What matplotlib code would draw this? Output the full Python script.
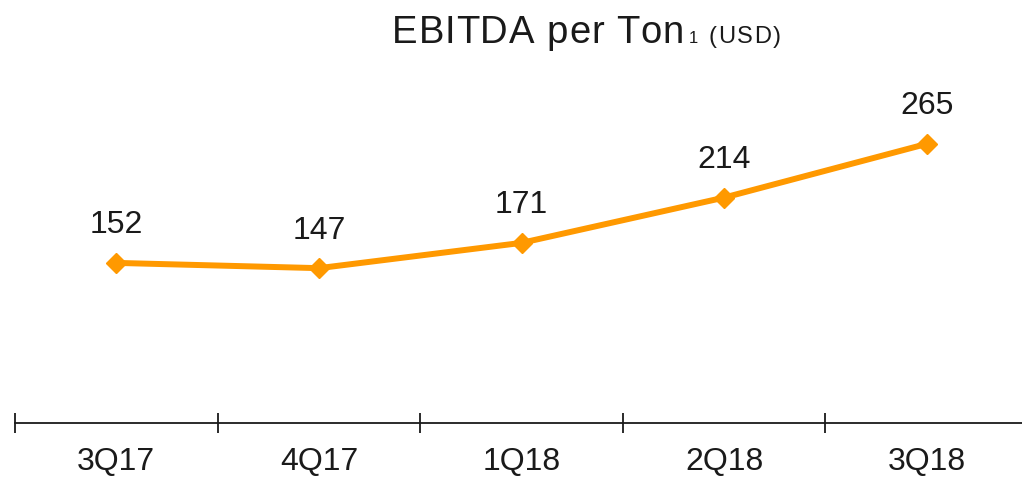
import matplotlib
matplotlib.use("Agg")
import matplotlib.pyplot as plt

plt.rcParams['font.family'] = ['Liberation Sans', 'DejaVu Sans']

quarters = ["3Q17", "4Q17", "1Q18", "2Q18", "3Q18"]
ebitda_per_ton = [152, 147, 171, 214, 265]

W, H = 1022, 480
fig = plt.figure(figsize=(W/100, H/100), dpi=100)
ax = fig.add_axes([15/W, (H-423)/H, 1 - 15/W, (423-107)/H])

x = list(range(len(quarters)))
ax.plot(x, ebitda_per_ton, color="#FF9900", lw=4.3, marker="D", ms=10,
        solid_capstyle="round", zorder=3)
for xi, v in zip(x, ebitda_per_ton):
    ax.annotate(str(v), (xi, v), xytext=(0, 27), textcoords="offset points",
                ha="center", va="center", fontsize=23, color="#1a1a1a")

ax.set_xlim(-0.5, 4.47)
ax.set_ylim(0, 300)
ax.set_yticks([])
for s in ["left", "right", "top"]:
    ax.spines[s].set_visible(False)
ax.spines["bottom"].set_linewidth(1.3)
ax.spines["bottom"].set_color("#1a1a1a")

ax.set_xticks(x)
ax.set_xticklabels(quarters, fontsize=23, color="#1a1a1a")
ax.tick_params(axis="x", which="major", length=0, pad=17)
ax.set_xticks([-0.5, 0.5, 1.5, 2.5, 3.5], minor=True)
ax.tick_params(axis="x", which="minor", direction="inout", length=14, width=1.3,
               color="#1a1a1a")

# title: letters placed one by one to get the wider spacing of the original
renderer = fig.canvas.get_renderer()
def tracked(xpx, ypx, s, size, track):
    for ch in s:
        t = fig.text(xpx/W, 1 - ypx/H, ch, fontsize=size, color="#1a1a1a",
                     ha="left", va="baseline")
        if ch == " ":
            w = size * 0.278 * 100/72
        else:
            w = t.get_window_extent(renderer).width
        xpx += w + track
    return xpx

end = tracked(392, 43, "EBITDA per Ton", 27.5, 0.9)
end = tracked(end + 4, 43, "1", 12, 0)
tracked(end + 10, 43, "(USD)", 17, 1.8)

fig.savefig("out.png", dpi=100)
